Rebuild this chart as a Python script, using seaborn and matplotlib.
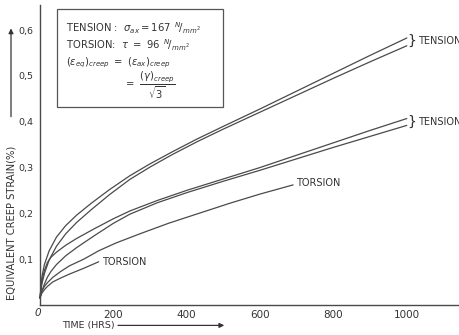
import matplotlib
matplotlib.use("Agg")
import numpy as np
import pandas as pd
import matplotlib.pyplot as plt
import seaborn as sns
from matplotlib.ticker import FuncFormatter, MultipleLocator
from matplotlib.patches import Rectangle

# creep curves: time (hrs) vs equivalent creep strain (%)
t_ten_hi = [0, 5, 12, 25, 45, 70, 100, 140, 190, 245, 300, 360, 430, 500, 600, 700, 800, 900, 1000]
s_ten_hi_a = [0.015, 0.06, 0.088, 0.118, 0.148, 0.173, 0.196, 0.222, 0.252, 0.282, 0.308,
              0.334, 0.363, 0.39, 0.428, 0.467, 0.506, 0.545, 0.583]
s_ten_hi_b = [0.015, 0.045, 0.068, 0.098, 0.128, 0.155, 0.18, 0.208, 0.241, 0.274, 0.301,
              0.328, 0.357, 0.384, 0.421, 0.458, 0.495, 0.531, 0.566]

t_ten_lo = [0, 5, 12, 20, 30, 45, 70, 100, 150, 200, 245, 320, 400, 500, 600, 700, 800, 900, 1000]
s_ten_lo_a = [0.015, 0.05, 0.075, 0.092, 0.104, 0.115, 0.13, 0.145, 0.167, 0.188, 0.205,
              0.228, 0.25, 0.275, 0.30, 0.327, 0.354, 0.381, 0.407]
s_ten_lo_b = [0.015, 0.03, 0.045, 0.06, 0.073, 0.088, 0.107, 0.125, 0.152, 0.178, 0.198,
              0.223, 0.245, 0.27, 0.294, 0.319, 0.344, 0.368, 0.392]

t_tor_long = [0, 5, 12, 20, 35, 55, 80, 120, 160, 207, 272, 350, 430, 518, 600, 690]
s_tor_long = [0.015, 0.03, 0.04, 0.048, 0.06, 0.072, 0.085, 0.10, 0.118, 0.135, 0.155,
              0.178, 0.199, 0.222, 0.242, 0.262]

t_tor_short = [0, 5, 12, 20, 35, 55, 80, 120, 160]
s_tor_short = [0.015, 0.025, 0.033, 0.04, 0.05, 0.058, 0.067, 0.08, 0.094]

x_ticks = [200, 400, 600, 800, 1000]
y_ticks = [0.1, 0.2, 0.3, 0.4, 0.5, 0.6]

curves = {
    "tension 1a": (t_ten_hi, s_ten_hi_a),
    "tension 1b": (t_ten_hi, s_ten_hi_b),
    "tension 2a": (t_ten_lo, s_ten_lo_a),
    "tension 2b": (t_ten_lo, s_ten_lo_b),
    "torsion long": (t_tor_long, s_tor_long),
    "torsion short": (t_tor_short, s_tor_short),
}
df = pd.concat(
    [pd.DataFrame({"curve": k, "t": t, "strain": s}) for k, (t, s) in curves.items()],
    ignore_index=True,
)

sns.set_style("white")
plt.rcParams["font.family"] = ["DejaVu Sans"]

fig = plt.figure(figsize=(4.6, 3.35), dpi=100)
ax = fig.add_axes([0, 0, 1, 1])

ink = "#4a4a4a"
sns.lineplot(data=df, x="t", y="strain", units="curve", estimator=None,
             color=ink, lw=0.9, sort=False, ax=ax, legend=False)

ax.set_xlim(-109, 1145)
ax.set_ylim(-0.066, 0.666)

for side in ["top", "right"]:
    ax.spines[side].set_visible(False)
for side in ["left", "bottom"]:
    ax.spines[side].set_position(("data", 0))
    ax.spines[side].set_color(ink)
    ax.spines[side].set_linewidth(1.0)
ax.spines["left"].set_bounds(0, 0.655)
ax.spines["bottom"].set_bounds(0, 1145)

ax.set_xticks(x_ticks)
ax.xaxis.set_minor_locator(MultipleLocator(100))
ax.set_yticks(y_ticks)
ax.yaxis.set_major_formatter(FuncFormatter(lambda v, p: f"{v:.1f}".replace(".", ",")))
ax.tick_params(axis="x", which="both", direction="in", length=3, color=ink,
               labelsize=7.5, labelcolor="#333", pad=4)
ax.tick_params(axis="y", direction="out", length=3, color=ink,
               labelsize=6.8, labelcolor="#333", pad=2)
ax.set_xlabel("")
ax.set_ylabel("")
ax.text(-6, -0.018, "0", fontsize=7.5, color="#333", ha="center", va="center",
        style="italic")

# axis titles with hand drawn arrows
ax.text(-79, 0.01, "EQUIVALENT CREEP STRAIN(%)", rotation=90, fontsize=7.2,
        color="#333", ha="center", va="bottom")
ax.annotate("", xy=(-79, 0.61), xytext=(-79, 0.405),
            arrowprops=dict(arrowstyle="-|>", color="#333", lw=0.9, mutation_scale=7))
ax.text(60, -0.045, "TIME (HRS)", fontsize=6.8, color="#333", ha="left", va="center")
ax.annotate("", xy=(510, -0.045), xytext=(205, -0.045),
            arrowprops=dict(arrowstyle="-|>", color="#333", lw=0.9, mutation_scale=7))

# curve labels
for y_lab in [0.576, 0.400]:
    ax.text(1000, y_lab, "}", fontsize=10, color="#333", ha="left", va="center")
    ax.text(1030, y_lab, "TENSION", fontsize=7, color="#333", ha="left", va="center")
ax.text(697, 0.266, "TORSION", fontsize=7, color="#333", ha="left", va="center")
ax.text(170, 0.094, "TORSION", fontsize=7, color="#333", ha="left", va="center")

# legend box with the test conditions
ax.add_patch(Rectangle((0.124, 0.681), 0.361, 0.292, transform=ax.transAxes,
                       fill=False, ec="#555", lw=0.9))
box_kw = dict(transform=ax.transAxes, fontsize=7.2, color="#333", ha="left", va="center")
ax.text(0.143, 0.915, r"TENSION :  $\sigma_{ax} = 167\ \,^{N}\!/_{mm^2}$", **box_kw)
ax.text(0.143, 0.865, r"TORSION:  $\tau\ =\ 96\ \,^{N}\!/_{mm^2}$", **box_kw)
ax.text(0.143, 0.812, r"$(\varepsilon_{eq})_{creep}\ =\ (\varepsilon_{ax})_{creep}$", **box_kw)
ax.text(0.27, 0.745, r"$=\ \dfrac{(\gamma)_{creep}}{\sqrt{3}}$", **box_kw)

fig.savefig("out.png", dpi=100)
